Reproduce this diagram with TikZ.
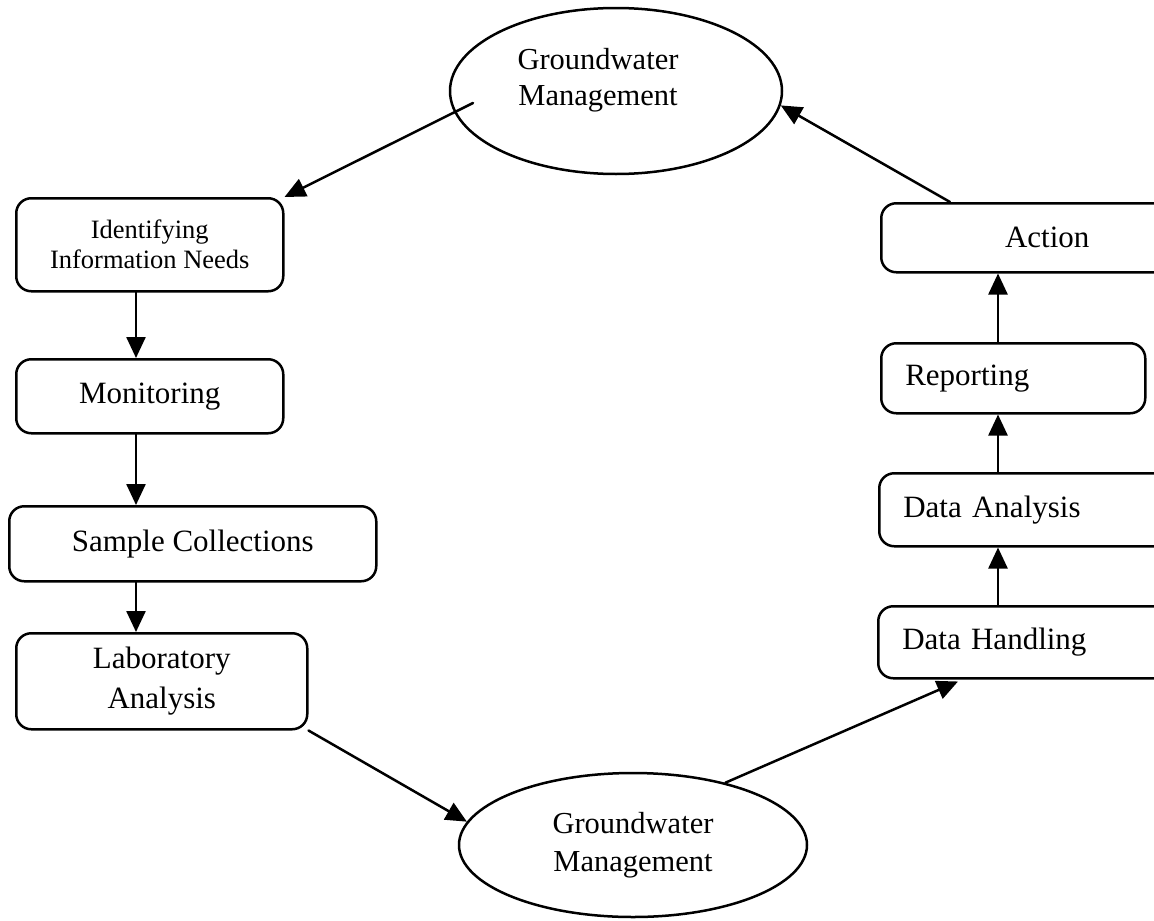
\documentclass[tikz,border=0pt]{standalone}
\usepackage{fontspec}
\setmainfont{Liberation Serif}
\usetikzlibrary{arrows.meta,shapes.geometric}

\begin{document}
\begin{tikzpicture}[x=1pt,y=-1pt,line width=2.5pt,line cap=round]
	\tikzstyle{stage}=[draw,rounded corners=15pt,anchor=north west,inner sep=0pt,align=center,font=\fontsize{31}{38}\selectfont];
	\tikzstyle{stepleft}=[stage,align=left,inner xsep=24pt];
	\tikzstyle{hub}=[draw,ellipse,inner sep=0pt,align=center,font=\fontsize{30.5}{38}\selectfont];
	\tikzstyle{flow}=[-{Triangle[length=21pt,width=19pt]}];

	\useasboundingbox (0,0) rectangle (1154,921);

	% the two management ellipses
	\node[hub,minimum width=332pt,minimum height=166pt] (topmgmt) at (616,91) {};
	\node[font=\fontsize{30.5}{36}\selectfont,align=center] (toplabel) at (598,80) {Groundwater\\Management};
	\node[hub,minimum width=348pt,minimum height=144pt] (botmgmt) at (633,845) {Groundwater\\Management};

	% left column
	\node[stage,minimum width=267pt,minimum height=93pt,font=\fontsize{26.5}{30}\selectfont] (needs) at (15,197) {Identifying\\Information Needs};
	\node[stage,minimum width=267pt,minimum height=74pt] (monitor) at (15,358) {Monitoring};
	\node[stage,minimum width=367pt,minimum height=75pt] (sample) at (8,505) {Sample Collections};
	\node[stage,minimum width=291pt,minimum height=96pt,font=\fontsize{31}{40}\selectfont] (lab) at (15,632) {Laboratory\\Analysis};

	% right column
	\node[stage,minimum width=332pt,minimum height=69pt] (action) at (880,202) {Action};
	\node[stepleft,text width=216pt,minimum height=70pt] (report) at (880,342) {Reporting};
	\node[stepleft,text width=254pt,minimum height=73pt] (analysis) at (878,472) {Data Analysis};
	\node[stepleft,text width=256pt,minimum height=72pt] (handling) at (877,605) {Data Handling};

	\coordinate (leftline) at (136,0);
	\coordinate (rightline) at (998,0);
	\coordinate (topout) at (473,103);

	\draw[flow] (topout) -- (needs.north east);
	\draw[flow] (needs.south -| leftline) -- (monitor.north -| leftline);
	\draw[flow] (monitor.south -| leftline) -- (sample.north -| leftline);
	\draw[flow] (sample.south -| leftline) -- (lab.north -| leftline);
	\draw[flow] (lab.south east) -- (botmgmt.172);
	\draw[flow] (botmgmt.34) -- ([xshift=81pt,yshift=-2pt]handling.south west);
	\draw[flow] (handling.north -| rightline) -- (analysis.south -| rightline);
	\draw[flow] (analysis.north -| rightline) -- (report.south -| rightline);
	\draw[flow] (report.north -| rightline) -- (action.south -| rightline);
	\draw[flow] ([xshift=70pt]action.north west) -- (topmgmt.-5);
\end{tikzpicture}
\end{document}
